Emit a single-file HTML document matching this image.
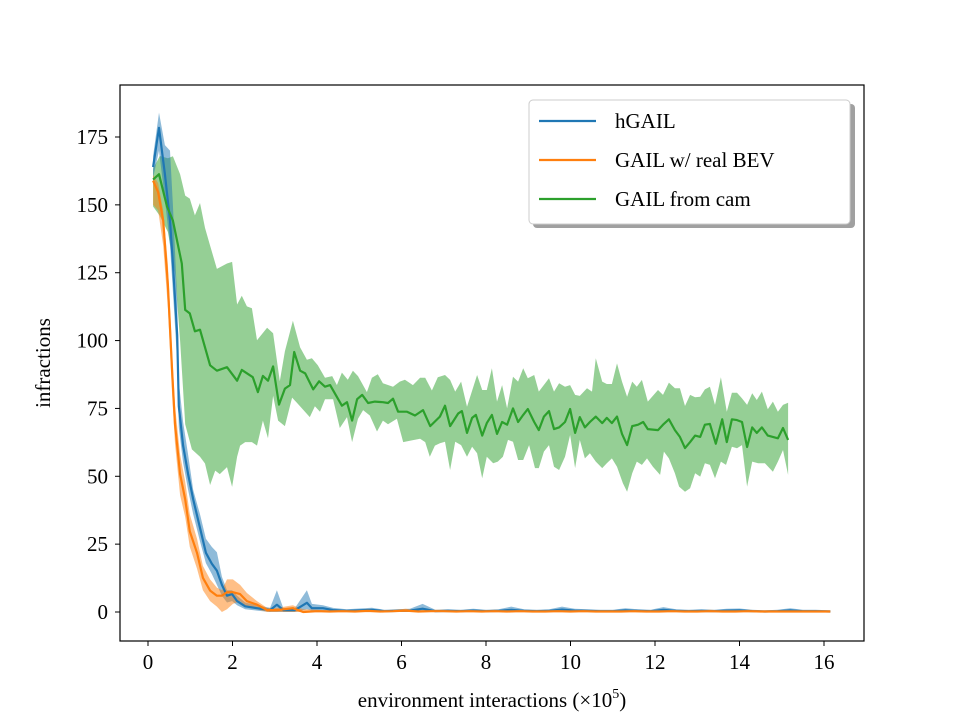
<!DOCTYPE html>
<html><head><meta charset="utf-8"><style>
body{margin:0;background:#fff;}
svg text{font-family:"Liberation Serif","DejaVu Serif",serif;fill:#000;}
</style></head><body>
<svg id="chart" width="960" height="720" viewBox="0 0 960 720" xmlns="http://www.w3.org/2000/svg">
<rect x="0" y="0" width="960" height="720" fill="#fff"/>
<g id="bands"></g><g id="lines"></g><g id="axes"></g>
<g>
<rect x="533" y="104" width="322" height="124" rx="4" fill="#888" opacity="0.8"/>
<rect x="529" y="100" width="321" height="124" rx="4" fill="#fff" stroke="#ccc" stroke-width="1"/>
<g><line x1="539" y1="121" x2="596" y2="121" stroke="#1f77b4" stroke-width="2.2"/><text x="615" y="128" font-size="21">hGAIL</text></g>
<g><line x1="539" y1="160" x2="596" y2="160" stroke="#ff7f0e" stroke-width="2.2"/><text x="615" y="167" font-size="21">GAIL w/ real BEV</text></g>
<g><line x1="539" y1="199" x2="596" y2="199" stroke="#2ca02c" stroke-width="2.2"/><text x="615" y="206" font-size="21">GAIL from cam</text></g>
</g>
<text x="0" y="0" font-size="21" text-anchor="middle" transform="translate(50,363) rotate(-90)">infractions</text>
<text x="492" y="707" font-size="21" text-anchor="middle">environment interactions (×10<tspan font-size="14" dy="-9">5</tspan><tspan dy="9">)</tspan></text>
</svg>
<script>
const xTicks=[0,2,4,6,8,10,12,14,16];
const yTicks=[0,25,50,75,100,125,150,175];
// green: GAIL from cam
const greenX=[0.12,0.26,0.45,0.59,0.80,0.88,0.99,1.11,1.23,1.47,1.63,1.87,2.11,2.22,2.48,2.60,2.72,2.84,2.96,3.10,3.24,3.36,3.46,3.60,3.72,3.91,4.05,4.19,4.31,4.59,4.71,4.83,4.95,5.07,5.21,5.37,5.56,5.68,5.80,5.92,6.13,6.32,6.51,6.68,6.91,7.03,7.15,7.34,7.43,7.55,7.67,7.76,7.91,8.02,8.14,8.26,8.38,8.50,8.64,8.76,8.88,8.99,9.14,9.25,9.37,9.49,9.61,9.73,9.87,9.99,10.11,10.22,10.34,10.46,10.60,10.75,10.86,10.98,11.10,11.22,11.34,11.46,11.60,11.72,11.83,12.07,12.19,12.33,12.47,12.59,12.71,12.83,12.95,13.07,13.18,13.30,13.44,13.59,13.70,13.82,13.94,14.06,14.18,14.30,14.41,14.53,14.67,14.91,15.03,15.15];
const greenMean=[159.3,161.3,149.4,144.2,128.4,111.3,110,103.4,104,90.9,88.9,90.2,85.2,89.2,86.5,81,87,85.2,90.5,76.4,82.3,83.6,95.8,88.9,87.9,82,85,83,83.6,76,77.3,70.5,78.4,80,77,77.5,77.3,77,78.6,73.8,73.8,72.4,74.4,68.5,72,76,68.5,73.1,74,66,71.5,72.6,65,69.6,72.6,65.6,70,69,75,70,72.6,74.8,70,67,72,74,67.4,68,70,74.8,66,71.8,68,70,72,69.6,71.5,69.6,72,65.6,61.5,68.5,69,70,67.4,67,69,71,67,64.5,60.4,62.6,65,64.5,69,69.3,62,71,62.6,71,70.7,70,60.8,68,66,68,65,64,67.8,63.4];
const greenHiX=[0.12,0.28,0.47,0.59,0.76,0.88,0.99,1.11,1.23,1.35,1.47,1.63,1.87,1.99,2.11,2.22,2.34,2.46,2.58,2.82,2.96,3.12,3.24,3.43,3.60,3.76,3.88,4.02,4.19,4.36,4.47,4.59,4.73,4.85,4.97,5.18,5.30,5.44,5.56,5.80,5.96,6.08,6.27,6.44,6.56,6.72,6.86,7.03,7.15,7.27,7.41,7.55,7.79,7.91,8.02,8.14,8.26,8.38,8.50,8.64,8.76,8.88,8.99,9.14,9.25,9.49,9.61,9.73,9.87,9.99,10.11,10.22,10.39,10.51,10.60,10.75,10.86,10.98,11.10,11.22,11.34,11.46,11.57,11.69,11.83,12.07,12.19,12.33,12.47,12.59,12.71,12.83,12.95,13.07,13.18,13.30,13.42,13.56,13.70,13.82,13.94,14.06,14.18,14.30,14.41,14.53,14.67,14.79,14.91,15.03,15.15];
const greenHi=[163.3,168,167.2,167.9,161.3,153.4,152.3,146.1,150.7,141.5,135,126.4,128.4,129,113.3,116.5,112.6,111.9,100.1,104.7,102.7,85,96.1,107.3,97.5,92.9,93.5,90.9,86.3,86.9,83.6,88.2,85.6,88.9,86.9,81,86.3,87.6,84.3,83,84.9,85.6,83.6,86.3,86.3,81.6,86.5,87.3,85.5,81.2,84.9,75.6,87.3,81.8,81.8,89.8,77.5,83.6,75,86.7,84.9,89.8,86.1,87.3,81.2,86.1,81.2,84.3,83,83.6,80,79.6,82.4,81.2,93.5,84.9,84,84,91.6,84.9,79.3,84.9,83,85.5,77.5,81.8,80,84.5,82.4,82.4,75.9,80,79.1,79.3,82,83,76.3,86.5,73.8,80.8,80.8,78.7,76.3,80.6,78.1,81.2,74.7,77.5,73.8,76.3,77.1];
const greenLoX=[0.12,0.28,0.47,0.64,0.76,0.88,1.04,1.23,1.35,1.47,1.59,1.70,1.87,1.99,2.11,2.18,2.30,2.46,2.58,2.72,2.84,2.96,3.08,3.24,3.41,3.53,3.83,3.95,4.07,4.19,4.38,4.54,4.71,4.83,4.97,5.09,5.25,5.42,5.56,5.68,5.89,6.04,6.20,6.44,6.56,6.67,6.79,6.91,7.03,7.15,7.27,7.41,7.55,7.67,7.79,7.91,8.02,8.17,8.28,8.40,8.52,8.64,8.76,8.88,9.02,9.16,9.25,9.37,9.49,9.61,9.73,9.87,9.99,10.11,10.22,10.34,10.46,10.60,10.75,10.86,10.98,11.10,11.24,11.34,11.46,11.57,11.69,11.81,11.95,12.12,12.21,12.33,12.47,12.57,12.71,12.83,12.95,13.07,13.18,13.30,13.42,13.56,13.68,13.82,13.94,14.06,14.18,14.30,14.44,14.60,14.79,14.91,15.03,15.15];
const greenLo=[149.4,146,140,125,100,69.2,59.9,57.2,54.7,46.8,52.1,50.8,53.4,46.1,57.2,61.3,62.6,62.6,61.3,70.5,64,79.7,70.5,68.5,79,77,71.8,75.8,73.8,78.4,78.4,67.8,71.8,62.6,71.2,74.4,72.4,66.5,70.5,69.2,71.2,62.6,63.1,63.8,62.6,57.2,61.3,62.2,62.7,52.3,62.7,61.5,57.2,60.9,58.5,49.3,57.2,54.8,55.4,57.2,63.4,62.7,56,56,61.5,53,53,59.1,61.5,53.5,52.3,57.2,65.2,53,63.4,56.6,58.5,55.4,53,54.8,56.6,53.5,47.4,44.3,51.1,55.4,54.2,56.6,53.5,50.5,59.1,56.6,51.1,46.2,44.3,45.6,51.1,49.9,54.8,54.2,49.3,55.4,54.2,60.9,60.3,61.5,46.2,55.4,54.8,54.8,51.7,55.4,59.7,50.5];
// blue: hGAIL
const blueX=[0.12,0.26,0.40,0.52,0.59,0.69,0.73,0.83,0.95,1.07,1.23,1.37,1.51,1.63,1.75,1.87,1.99,2.11,2.30,2.58,2.89,3.05,3.20,3.48,3.76,3.88,4.14,4.38,4.7,5.0,5.3,5.6,5.9,6.2,6.5,6.8,7.1,7.4,7.7,8.0,8.3,8.6,8.9,9.2,9.5,9.8,10.1,10.4,10.7,11.0,11.3,11.6,11.9,12.2,12.5,12.8,13.1,13.4,13.7,14.0,14.3,14.6,14.9,15.2,15.5,15.8,16.15];
const blueMean=[163.9,178.4,161.3,144.2,128.4,102,75.8,61.3,50.8,41.5,31,21.8,17.8,15.2,10,6,6.6,4,2.1,1.4,0.7,2.7,0.7,0.7,3.4,1.4,1.4,0.7,0.4,0.6,0.8,0.3,0.4,0.5,1.2,0.3,0.4,0.3,0.5,0.3,0.4,0.8,0.4,0.3,0.4,0.9,0.5,0.4,0.3,0.3,0.6,0.4,0.3,0.8,0.4,0.3,0.4,0.3,0.5,0.6,0.3,0.2,0.3,0.6,0.3,0.3,0.2];
const blueHi=[168,184,172,170,150,115,85,70,58,45,36,27,24,22,13,8,8,6,3.5,2.5,1.5,8,1.5,1.5,8,3,2.5,1.5,1,1.3,1.6,0.8,1,1.2,3,0.8,1,0.8,1.2,0.8,1,2,1,0.8,1,2,1.2,1,0.8,0.8,1.4,1,0.8,1.8,1,0.8,1,0.8,1.2,1.3,0.8,0.6,0.8,1.4,0.8,0.8,0.6];
const blueLo=[160,170,152,135,118,92,68,55,45,36,26,18,14,10,6,3.5,4,2.5,1,0.5,0,0,0,0,1,0.5,0.5,0,0,0,0,0,0,0,0,0,0,0,0,0,0,0,0,0,0,0,0,0,0,0,0,0,0,0,0,0,0,0,0,0,0,0,0,0,0,0,0];
// orange: GAIL w/ real BEV
const orangeX=[0.12,0.24,0.36,0.47,0.57,0.64,0.76,0.88,0.99,1.16,1.30,1.47,1.63,1.75,1.87,2.01,2.18,2.34,2.58,2.82,3.05,3.43,3.67,4.0,4.3,4.6,4.9,5.2,5.5,5.8,6.1,6.4,6.7,7.0,7.3,7.6,7.9,8.2,8.5,8.8,9.1,9.4,9.7,10.0,10.3,10.6,10.9,11.2,11.5,11.8,12.1,12.4,12.7,13.0,13.3,13.6,13.9,14.2,14.5,14.8,15.1,15.4,15.7,16.15];
const orangeMean=[158.9,154.7,144.2,120.5,88.9,69.2,50.8,41.5,29.7,21.8,12.6,7.9,6,6,7.3,7.3,6.6,4,2.7,0.7,0.7,1.4,0,0.3,0.2,0.3,0.2,0.4,0.2,0.3,0.5,0.2,0.3,0.3,0.2,0.3,0.2,0.3,0.2,0.3,0.2,0.2,0.3,0.2,0.3,0.2,0.2,0.2,0.3,0.2,0.2,0.3,0.2,0.2,0.3,0.2,0.2,0.3,0.2,0.2,0.2,0.2,0.2,0.2];
const orangeHi=[161,158,148,128,96,76,58,48,36,27,17,12,9,8,12,12,10,7,4,1.5,1.5,2.5,1,0.8,0.6,0.8,0.6,1,0.6,0.8,1.2,0.6,0.8,0.8,0.6,0.8,0.6,0.8,0.6,0.8,0.6,0.6,0.8,0.6,0.8,0.6,0.6,0.6,0.8,0.6,0.6,0.8,0.6,0.6,0.8,0.6,0.6,0.8,0.6,0.6,0.6,0.6,0.6,0.6];
const orangeLo=[150,148,135,112,80,62,43,35,24,16,8,4,2,0,1,3,4,2,1,0,0,0,0,0,0,0,0,0,0,0,0,0,0,0,0,0,0,0,0,0,0,0,0,0,0,0,0,0,0,0,0,0,0,0,0,0,0,0,0,0,0,0,0,0];

const NS="http://www.w3.org/2000/svg";
const L=120,R=864,T=85,B=641;
function xs(v){return 148+v*42.25;}
function ys(v){return 612-v*(475/175);}
function pts(X,Y){return X.map((x,i)=>xs(x).toFixed(1)+","+ys(Y[i]).toFixed(1));}
function band(hx,hi,lx,lo,color,name){
  const p=document.createElementNS(NS,"polygon");
  p.setAttribute("points",pts(hx,hi).concat(pts(lx,lo).reverse()).join(" "));
  p.setAttribute("fill",color);p.setAttribute("fill-opacity","0.5");
  
  
  document.getElementById("bands").appendChild(p);
}
function line(X,Y,color,name){
  const p=document.createElementNS(NS,"polyline");
  p.setAttribute("points",pts(X,Y).join(" "));
  p.setAttribute("fill","none");p.setAttribute("stroke",color);p.setAttribute("stroke-width","2.2");p.setAttribute("stroke-linejoin","round");
  
  
  document.getElementById("lines").appendChild(p);
}
band(greenHiX,greenHi,greenLoX,greenLo,"#2ca02c","green-band");
band(blueX,blueHi,blueX,blueLo,"#1f77b4","blue-band");
band(orangeX,orangeHi,orangeX,orangeLo,"#ff7f0e","orange-band");
line(blueX,blueMean,"#1f77b4","hgail-line");
line(orangeX,orangeMean,"#ff7f0e","gail-real-bev-line");
line(greenX,greenMean,"#2ca02c","gail-from-cam-line");
const ax=document.getElementById("axes");
const fr=document.createElementNS(NS,"rect");
fr.setAttribute("x",L);fr.setAttribute("y",T);fr.setAttribute("width",R-L);fr.setAttribute("height",B-T);
fr.setAttribute("fill","none");fr.setAttribute("stroke","#000");fr.setAttribute("stroke-width","1.2");


ax.appendChild(fr);
xTicks.forEach(t=>{
  const l=document.createElementNS(NS,"line");
  l.setAttribute("x1",xs(t));l.setAttribute("x2",xs(t));l.setAttribute("y1",B);l.setAttribute("y2",B+5);l.setAttribute("stroke","#000");
  
  
  ax.appendChild(l);
  const tx=document.createElementNS(NS,"text");
  tx.setAttribute("x",xs(t));tx.setAttribute("y",B+28);tx.setAttribute("text-anchor","middle");tx.setAttribute("font-size","21");
  tx.textContent=t;
  
  
  ax.appendChild(tx);
});
yTicks.forEach(t=>{
  const l=document.createElementNS(NS,"line");
  l.setAttribute("x1",L-5);l.setAttribute("x2",L);l.setAttribute("y1",ys(t));l.setAttribute("y2",ys(t));l.setAttribute("stroke","#000");
  
  
  ax.appendChild(l);
  const tx=document.createElementNS(NS,"text");
  tx.setAttribute("x",L-12);tx.setAttribute("y",ys(t)+7);tx.setAttribute("text-anchor","end");tx.setAttribute("font-size","21");
  tx.textContent=t;
  
  
  ax.appendChild(tx);
});
</script>
</body></html>
